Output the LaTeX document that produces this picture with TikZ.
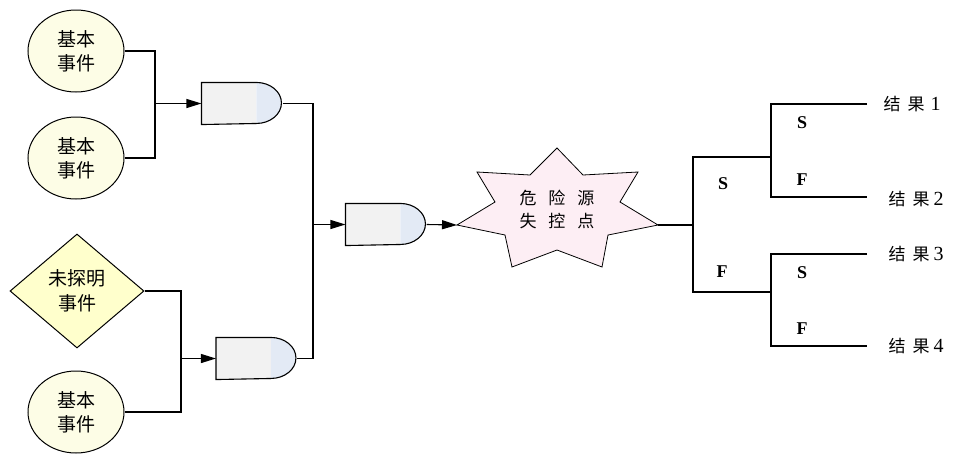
\documentclass[tikz,border=0pt]{standalone}
\usepackage{fontspec}
\setmainfont{Liberation Serif}
\newfontfamily\cjk{Noto Sans CJK SC}
\usetikzlibrary{arrows.meta,shapes.geometric,calc}

\definecolor{evfill}{HTML}{FDFDE6}
\definecolor{dmfill}{HTML}{FFFFCC}
\definecolor{hzfill}{HTML}{FDEEF4}
\definecolor{gbody}{HTML}{F2F2F2}
\definecolor{gcap}{HTML}{E3EAF5}

% AND gate: flat body plus a half-elliptic cap, drawn over a named box
\newcommand\gateshape[1]{%
  \fill[gbody] (#1.north west) rectangle ([xshift=55pt]#1.south west);
  \fill[gcap] ([xshift=55pt]#1.north west)
     arc[start angle=90,end angle=-90,x radius=25pt,y radius=20.5pt] -- cycle;
  \draw (#1.north west) -- ([xshift=55pt]#1.north west)
     arc[start angle=90,end angle=-90,x radius=25pt,y radius=20.5pt]
     -- (#1.south west) -- cycle;
}

\begin{document}
\begin{tikzpicture}[x=1pt,y=-1pt,line width=1.1pt,
  basic/.style={ellipse,draw,fill=evfill,line width=1pt,minimum width=96pt,
    minimum height=82pt,inner sep=0pt,align=center,
    font=\cjk\fontsize{19}{24}\selectfont},
  undev/.style={diamond,draw,fill=dmfill,line width=1pt,minimum width=134pt,
    minimum height=114pt,inner sep=0pt,align=center,
    font=\cjk\fontsize{19}{25}\selectfont},
  gatebox/.style={rectangle,minimum width=80pt,minimum height=41pt,inner sep=0pt},
  arr/.style={-{Triangle[length=15pt,width=9pt]}},
  sflabel/.style={font=\bfseries\fontsize{18}{18}\selectfont,inner sep=0pt},
  result/.style={anchor=west,inner sep=0pt,font=\fontsize{20}{20}\selectfont},
  hztext/.style={align=center,inner sep=0pt,font=\cjk\fontsize{17}{23}\selectfont}
]
\useasboundingbox (0,0) rectangle (957,453);

% basic and undeveloped events
\node[basic] (e1) at (76,51) {基本\\事件};
\node[basic] (e2) at (76,158) {基本\\事件};
\node[undev] (u1) at (77,291) {未探明\\事件};
\node[basic] (e3) at (76,412) {基本\\事件};

% AND gates
\node[gatebox] (g1) at (242,103.5) {};
\node[gatebox] (g2) at (256.5,358.5) {};
\node[gatebox] (g3) at (386,224.5) {};
\gateshape{g1}
\gateshape{g2}
\gateshape{g3}

% hazard burst
\filldraw[fill=hzfill,line width=0.8pt]
  (557,148) -- (583,175) -- (638,172) -- (620,202) -- (658,225) -- (608,235)
  -- (602,267) -- (557,250) -- (512,267) -- (505,235) -- (457,225) -- (495,202)
  -- (477,172) -- (530,175) -- cycle;
\node[hztext] (hz) at (557,209)
  {危\hspace{12pt}险\hspace{12pt}源\\失\hspace{12pt}控\hspace{12pt}点};
\coordinate (hzL) at (457,225);
\coordinate (hzR) at (658,225);

% fault tree joints
\coordinate (j1) at (155,103.5);
\coordinate (j2) at (181,358.5);
\coordinate (j3) at (313,224.5);

\draw (e1.east) -| (j1) |- (e2.east);
\draw[arr] (j1) -- (g1.west);
\draw (u1.east) -| (j2) |- (e3.east);
\draw[arr] (j2) -- (g2.west);
\draw (g1.east) -| (j3) |- (g2.east);
\draw[arr] (j3) -- (g3.west);
\draw[arr] (g3.east) -- (hzL);

% event tree
\coordinate (t0) at (693,225);
\coordinate (b1) at (771,157);
\coordinate (b2) at (771,292);
\coordinate (r1) at (867,104);
\coordinate (r2) at (867,197);
\coordinate (r3) at (867,254);
\coordinate (r4) at (867,346);

\draw (hzR) -- (t0);
\draw (b1) -| (t0) |- (b2);
\draw (r1) -| (b1) |- (r2);
\draw (r3) -| (b2) |- (r4);

\node[sflabel] (s1) at (723,184) {S};
\node[sflabel] (f1) at (722,272) {F};
\node[sflabel] (s2) at (802,123) {S};
\node[sflabel] (f2) at (802,180) {F};
\node[sflabel] (s3) at (802,273) {S};
\node[sflabel] (f3) at (802,329) {F};

\node[result] (o1) at (883,104) {{\cjk\fontsize{17}{17}\selectfont 结}\hspace{7pt}{\cjk\fontsize{17}{17}\selectfont 果}\hspace{6pt}1};
\node[result] (o2) at (888,199) {{\cjk\fontsize{17}{17}\selectfont 结}\hspace{7pt}{\cjk\fontsize{17}{17}\selectfont 果}\hspace{4pt}2};
\node[result] (o3) at (888,254) {{\cjk\fontsize{17}{17}\selectfont 结}\hspace{7pt}{\cjk\fontsize{17}{17}\selectfont 果}\hspace{4pt}3};
\node[result] (o4) at (888,346) {{\cjk\fontsize{17}{17}\selectfont 结}\hspace{7pt}{\cjk\fontsize{17}{17}\selectfont 果}\hspace{4pt}4};
\end{tikzpicture}
\end{document}
